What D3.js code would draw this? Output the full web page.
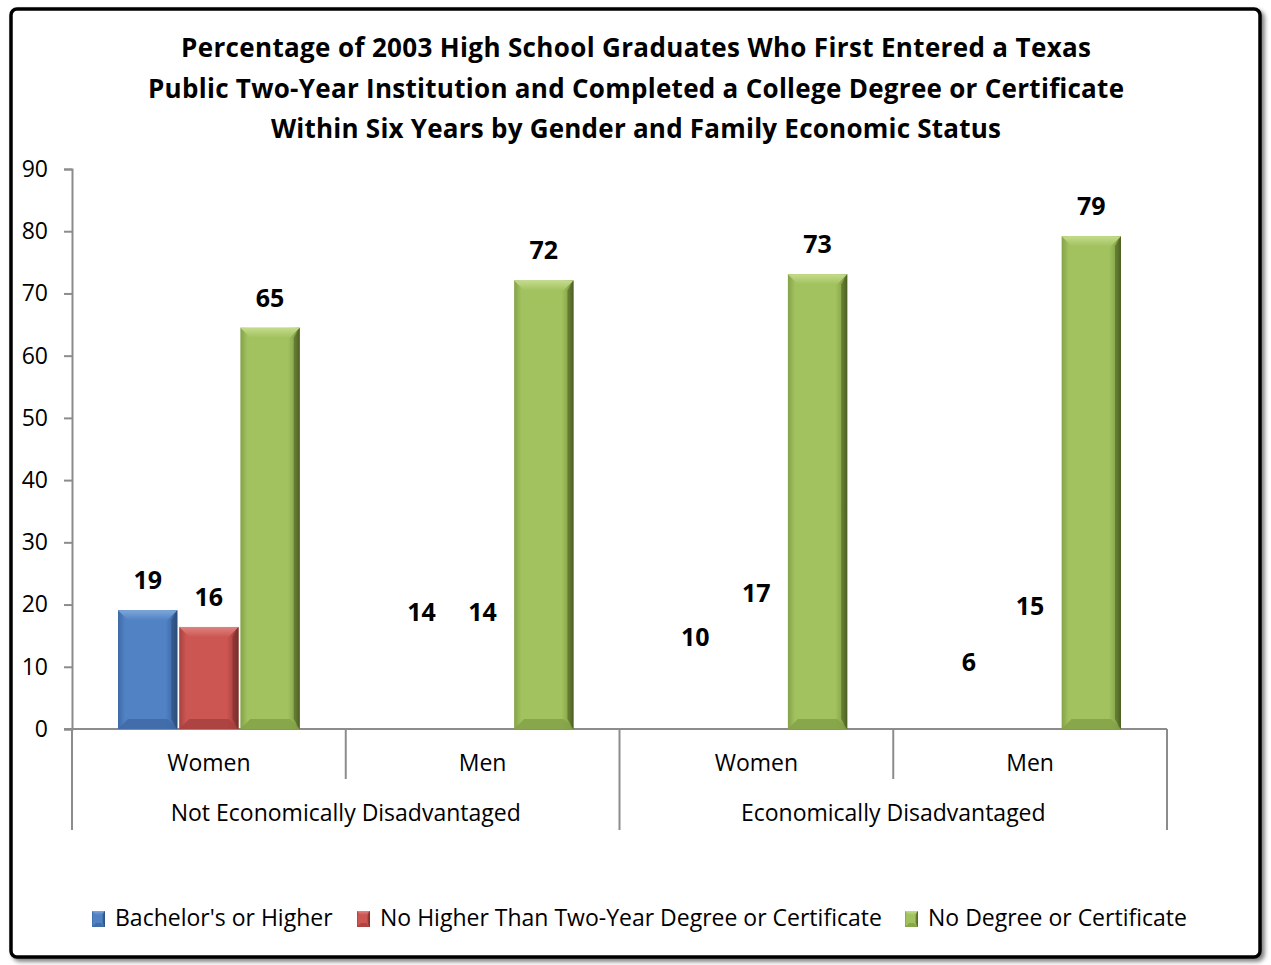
<!DOCTYPE html>
<html>
<head>
<meta charset="utf-8">
<script src="https://cdn.jsdelivr.net/npm/d3@7"></script>
<style>
  html, body { margin: 0; padding: 0; background: #ffffff; }
  svg { display: block; }
  text { font-family: "Open Sans", Lato, sans-serif; }
</style>
</head>
<body>
<svg id="chart" width="1271" height="965"></svg>
<script>
// ---- data ----
const titleLines = [
  "Percentage of 2003 High School Graduates Who First Entered a Texas",
  "Public Two-Year Institution and Completed a College Degree or Certificate",
  "Within Six Years by Gender and Family Economic Status"
];
const subCategories = ["Women", "Men", "Women", "Men"];
const groupLabels = ["Not Economically Disadvantaged", "Economically Disadvantaged"];
const seriesNames = ["Bachelor's or Higher", "No Higher Than Two-Year Degree or Certificate", "No Degree or Certificate"];
const bachelors = [19.1, 14, 10, 6];
const twoYear = [16.4, 14, 17, 15];
const noDegree = [64.5, 72.1, 73.1, 79.2];
const yTicks = [0, 10, 20, 30, 40, 50, 60, 70, 80, 90];

const seriesValues = [bachelors, twoYear, noDegree];
const colors = [
  {base: "#5182C4", light: "#7EA6DA", dark: "#2B4C7A", side: "#3F6AA6"},
  {base: "#CC5652", light: "#E08481", dark: "#7A2E2C", side: "#A8413E"},
  {base: "#A2C25F", light: "#C4DC8C", dark: "#4B5F22", side: "#84A248"}
];

const svg = d3.select("#chart");

// frame with shadow
const defs = svg.append("defs");
const f = defs.append("filter").attr("id", "shadow").attr("x", "-5%").attr("y", "-5%").attr("width", "110%").attr("height", "110%");
f.append("feDropShadow").attr("dx", 3).attr("dy", 3).attr("stdDeviation", 2).attr("flood-color", "#000").attr("flood-opacity", 0.5);

svg.append("rect")
  .attr("x", 11).attr("y", 9).attr("width", 1249).attr("height", 948)
  .attr("rx", 6).attr("fill", "#fff").attr("stroke", "#000").attr("stroke-width", 3.5)
  .attr("filter", "url(#shadow)");

// gradients
colors.forEach((c, i) => {
  const g = defs.append("linearGradient").attr("id", "grad" + i)
    .attr("x1", "0%").attr("x2", "100%").attr("y1", "0%").attr("y2", "0%");
  g.append("stop").attr("offset", "0%").attr("stop-color", c.side);
  g.append("stop").attr("offset", "12%").attr("stop-color", c.base);
  g.append("stop").attr("offset", "80%").attr("stop-color", c.base);
  g.append("stop").attr("offset", "93%").attr("stop-color", c.side);
  g.append("stop").attr("offset", "100%").attr("stop-color", c.dark);
  const t = defs.append("linearGradient").attr("id", "top" + i)
    .attr("x1", "0%").attr("x2", "0%").attr("y1", "0%").attr("y2", "100%");
  t.append("stop").attr("offset", "0%").attr("stop-color", c.light);
  t.append("stop").attr("offset", "100%").attr("stop-color", c.base);
});

// title
const titleWidths = [910, 976, 730];
const title = svg.append("text").attr("text-anchor", "middle")
  .attr("font-size", 26).attr("font-weight", "bold").attr("fill", "#000");
titleLines.forEach((l, i) => {
  title.append("tspan").attr("x", 636).attr("y", 57 + i * 40.5)
    .attr("textLength", titleWidths[i]).attr("lengthAdjust", "spacing").text(l);
});

// scales
const x0 = d3.scaleBand().domain(d3.range(subCategories.length)).range([72, 1167]).padding(0);
const x1 = d3.scaleBand().domain(d3.range(seriesNames.length))
  .range([46, x0.bandwidth() - 46]).paddingInner(0.03).paddingOuter(0);
const y = d3.scaleLinear().domain([0, 90]).range([729, 169]);

const axisColor = "#8c8c8c";

// y axis
const yAxis = d3.axisLeft(y).tickValues(yTicks).tickSize(8).tickPadding(16);
const ya = svg.append("g").attr("transform", "translate(72,0)").call(yAxis);
ya.select(".domain").attr("stroke", axisColor).attr("stroke-width", 2);
ya.selectAll(".tick line").attr("stroke", axisColor).attr("stroke-width", 2);
ya.selectAll(".tick text").attr("font-size", 23).attr("fill", "#000")
  .style("font-family", "'Open Sans', Lato, sans-serif");

// x axis baseline
svg.append("line").attr("x1", 64).attr("x2", 1167).attr("y1", y(0)).attr("y2", y(0))
  .attr("stroke", axisColor).attr("stroke-width", 2);

// category separators
d3.range(subCategories.length + 1).forEach(i => {
  const xx = i < subCategories.length ? x0(i) : x0.range()[1];
  const long = (i % 2 === 0);
  svg.append("line").attr("x1", xx).attr("x2", xx)
    .attr("y1", y(0)).attr("y2", long ? 830 : 779)
    .attr("stroke", axisColor).attr("stroke-width", 2);
});

// sub category labels
svg.append("g").selectAll("text").data(subCategories).join("text")
  .attr("x", (d, i) => x0(i) + x0.bandwidth() / 2)
  .attr("y", 771).attr("text-anchor", "middle").attr("font-size", 23).attr("fill", "#000")
  .text(d => d);

// group labels
svg.append("g").selectAll("text").data(groupLabels).join("text")
  .attr("x", (d, i) => x0(i * 2) + x0.bandwidth())
  .attr("y", 821).attr("text-anchor", "middle").attr("font-size", 23).attr("fill", "#000")
  .text(d => d);

// bars
function drawBar(g, x, yTop, w, yBase, si, bev) {
  const h = yBase - yTop;
  const b = Math.min(bev || 10, h / 2);
  const c = colors[si];
  g.append("rect").attr("x", x).attr("y", yTop).attr("width", w).attr("height", h)
    .attr("fill", "url(#grad" + si + ")");
  g.append("polygon")
    .attr("points", [[x, yTop], [x + w, yTop], [x + w - b, yTop + b], [x + b, yTop + b]].map(p => p.join(",")).join(" "))
    .attr("fill", "url(#top" + si + ")");
  g.append("polygon")
    .attr("points", [[x, yBase], [x + w, yBase], [x + w - b, yBase - b], [x + b, yBase - b]].map(p => p.join(",")).join(" "))
    .attr("fill", c.side).attr("opacity", 0.85);
  g.append("polygon")
    .attr("points", [[x + w, yTop], [x + w, yBase], [x + w - b * 0.6, yBase - b], [x + w - b * 0.6, yTop + b]].map(p => p.join(",")).join(" "))
    .attr("fill", c.dark).attr("opacity", 0.6);
}

const barsG = svg.append("g");
seriesValues.forEach((vals, si) => {
  vals.forEach((v, gi) => {
    const bx = x0(gi) + x1(si);
    const bw = x1.bandwidth();
    // in the reference only the first cluster shows its first two series
    const visible = (si === 2 || gi === 0);
    const g = barsG.append("g").attr("class", "bar").attr("opacity", visible ? 1 : 0);
    drawBar(g, bx, y(v), bw, y(0), si, 10);
  });
});

// value labels
const labelsG = svg.append("g");
seriesValues.forEach((vals, si) => {
  vals.forEach((v, gi) => {
    labelsG.append("text")
      .attr("x", x0(gi) + x1(si) + x1.bandwidth() / 2)
      .attr("y", y(v) - 21)
      .attr("text-anchor", "middle").attr("font-size", 25).attr("font-weight", "bold").attr("fill", "#000")
      .text(Math.round(v));
  });
});

// legend
const legendX = [92, 357, 905];
const legend = svg.append("g");
seriesNames.forEach((name, si) => {
  const g = legend.append("g");
  const lx = legendX[si];
  drawBar(g, lx, 911, 13, 927, si, 4);
  g.append("text").attr("x", lx + 23).attr("y", 926).attr("font-size", 23).attr("fill", "#000").text(name);
});
</script>
</body>
</html>
